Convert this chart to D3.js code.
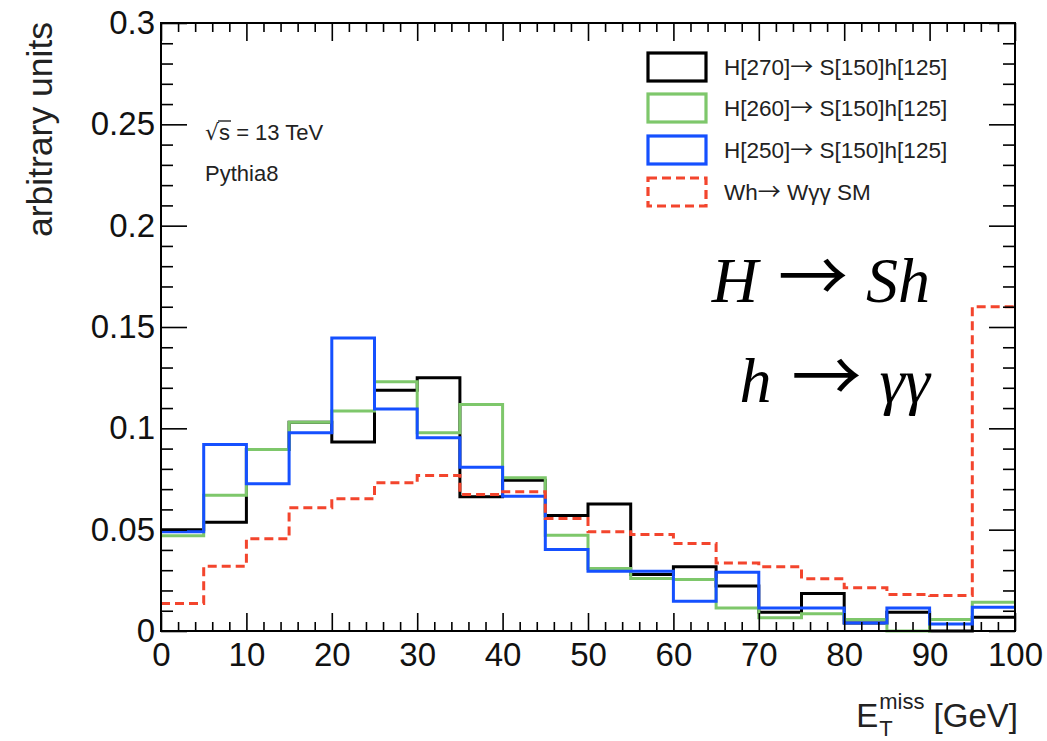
<!DOCTYPE html>
<html>
<head>
<meta charset="utf-8">
<script src="https://cdn.jsdelivr.net/npm/d3@7"></script>
<style>
  body { margin: 0; background: #fff; }
  svg { display: block; font-family: "Liberation Sans", Arial, sans-serif; }
</style>
</head>
<body>
<div id="viz"></div>
<script>
var width = 1047;
var height = 741;

// bin edges, 5 GeV wide
var binEdges = [0, 5, 10, 15, 20, 25, 30, 35, 40, 45, 50, 55, 60, 65, 70, 75, 80, 85, 90, 95, 100];

// H[270] -> S[150]h[125]
var h270 = [0.050, 0.0537, 0.0895, 0.103, 0.0933, 0.1188, 0.1249, 0.0662, 0.0744, 0.057,
            0.0627, 0.0279, 0.0317, 0.0222, 0.0093, 0.0185, 0.004, 0.0093, 0.0, 0.0068];
// H[260] -> S[150]h[125]
var h260 = [0.047, 0.067, 0.0895, 0.103, 0.1085, 0.123, 0.0978, 0.1117, 0.0756, 0.0473,
            0.0308, 0.0259, 0.0254, 0.0114, 0.0065, 0.0085, 0.0057, 0.0, 0.0057, 0.0142];
// H[250] -> S[150]h[125]
var h250 = [0.049, 0.092, 0.0726, 0.0978, 0.1446, 0.1096, 0.0953, 0.0808, 0.0665, 0.0402,
            0.0295, 0.0295, 0.0147, 0.029, 0.0114, 0.0114, 0.004, 0.0114, 0.0035, 0.0117];
// Wh -> Wyy SM
var whSM = [0.0136, 0.032, 0.0455, 0.0608, 0.0652, 0.0731, 0.0767, 0.0673, 0.0687, 0.0555,
            0.049, 0.0476, 0.0432, 0.0335, 0.0317, 0.0258, 0.0213, 0.018, 0.0175, 0.160];

// legend labels, split around the arrow
var seriesNames = [["H[270]", "S[150]h[125]"], ["H[260]", "S[150]h[125]"], ["H[250]", "S[150]h[125]"], ["Wh", "W\u03b3\u03b3 SM"]];
var seriesColors = ["#000000", "#7ec76b", "#1550ff", "#f3452d"];

var xTicks = [0, 10, 20, 30, 40, 50, 60, 70, 80, 90, 100];
var yTicks = [0, 0.05, 0.1, 0.15, 0.2, 0.25, 0.3];
var yTickLabels = ["0", "0.05", "0.1", "0.15", "0.2", "0.25", "0.3"];

var arrowFont = "'Noto Sans CJK JP', 'DejaVu Sans', sans-serif";

var svg = d3.select("#viz").append("svg")
   .attr("width", width)
   .attr("height", height);

svg.append("rect")
   .attr("width", width)
   .attr("height", height)
   .attr("fill", "#fff");

var x = d3.scaleLinear().domain([0, 100]).range([161, 1015]);
var y = d3.scaleLinear().domain([0, 0.3]).range([631, 23]);

// Histograms //

var step = d3.line()
   .x(function(d) { return x(d[0]); })
   .y(function(d) { return y(d[1]); })
   .curve(d3.curveStepAfter);

function histPoints(vals) {
   var pts = vals.map(function(v, i) { return [binEdges[i], v]; });
   pts.push([binEdges[binEdges.length - 1], vals[vals.length - 1]]);
   return pts;
}

var allSeries = [h270, h260, h250, whSM];
allSeries.forEach(function(vals, i) {
   svg.append("path")
      .attr("d", step(histPoints(vals)))
      .attr("fill", "none")
      .attr("stroke", seriesColors[i])
      .attr("stroke-width", 3)
      .attr("stroke-dasharray", i == 3 ? "9,5" : null);
});

// Axes //

var minorX = d3.range(0, 101, 2).filter(function(d) { return d % 10 != 0; });
var minorY = d3.range(0, 31, 1).map(function(d) { return d / 100; }).filter(function(d, i) { return i % 5 != 0; });

function styleAxis(g) {
   g.select(".domain").remove();
   g.selectAll(".tick line").attr("stroke", "#000").attr("stroke-width", 1.6);
   g.selectAll(".tick text").attr("font-size", 33).attr("fill", "#111")
      .style("font-family", "'Liberation Sans', Arial, sans-serif");
}

// bottom
svg.append("g").attr("transform", "translate(0,631)")
   .call(d3.axisBottom(x).tickValues(xTicks).tickSize(-18).tickPadding(12).tickFormat(d3.format("d")))
   .call(styleAxis);
svg.append("g").attr("transform", "translate(0,631)")
   .call(d3.axisBottom(x).tickValues(minorX).tickSize(-9).tickFormat(""))
   .call(styleAxis);
// top
svg.append("g").attr("transform", "translate(0,23)")
   .call(d3.axisTop(x).tickValues(xTicks).tickSize(-18).tickFormat(""))
   .call(styleAxis);
svg.append("g").attr("transform", "translate(0,23)")
   .call(d3.axisTop(x).tickValues(minorX).tickSize(-9).tickFormat(""))
   .call(styleAxis);
// left
svg.append("g").attr("transform", "translate(161,0)")
   .call(d3.axisLeft(y).tickValues(yTicks).tickSize(-26).tickPadding(6)
      .tickFormat(function(d, i) { return yTickLabels[i]; }))
   .call(styleAxis);
svg.append("g").attr("transform", "translate(161,0)")
   .call(d3.axisLeft(y).tickValues(minorY).tickSize(-12).tickFormat(""))
   .call(styleAxis);
// right
svg.append("g").attr("transform", "translate(1015,0)")
   .call(d3.axisRight(y).tickValues(yTicks).tickSize(-26).tickFormat(""))
   .call(styleAxis);
svg.append("g").attr("transform", "translate(1015,0)")
   .call(d3.axisRight(y).tickValues(minorY).tickSize(-12).tickFormat(""))
   .call(styleAxis);

// frame
svg.append("rect")
   .attr("x", x(0))
   .attr("y", y(0.3))
   .attr("width", x(100) - x(0))
   .attr("height", y(0) - y(0.3))
   .attr("fill", "none")
   .attr("stroke", "#000")
   .attr("stroke-width", 2);

// Axis titles //

svg.append("text")
   .attr("transform", "translate(52,22) rotate(-90)")
   .attr("text-anchor", "end")
   .attr("font-size", 35.5)
   .attr("fill", "#222")
   .text("arbitrary units");

var xt = svg.append("g").attr("fill", "#222");
var e = xt.append("text").attr("x", 0).attr("y", 0).attr("font-size", 33).text("E");
var ew = e.node().getComputedTextLength() + 1;
var sub = xt.append("text").attr("x", ew).attr("y", 9).attr("font-size", 22).text("T");
var sup = xt.append("text").attr("x", ew).attr("y", -18).attr("font-size", 22).text("miss");
var sw = Math.max(sub.node().getComputedTextLength(), sup.node().getComputedTextLength());
var rest = xt.append("text").attr("x", ew + sw).attr("y", 0).attr("font-size", 33).text("\u00a0[GeV]");
var total = ew + sw + rest.node().getComputedTextLength();
xt.attr("transform", "translate(" + (1018 - total) + ",727)");

// Legend //

var legendY = [67, 108, 150, 192];
seriesNames.forEach(function(name, i) {
   svg.append("rect")
      .attr("x", 648)
      .attr("y", legendY[i] - 14)
      .attr("width", 58)
      .attr("height", 28)
      .attr("fill", "none")
      .attr("stroke", seriesColors[i])
      .attr("stroke-width", 3.2)
      .attr("stroke-dasharray", i == 3 ? "9,5" : null);
   var t = svg.append("text")
      .attr("x", 724)
      .attr("y", legendY[i])
      .attr("dy", "0.35em")
      .attr("font-size", 22.5)
      .attr("fill", "#222");
   t.append("tspan").text(name[0]);
   t.append("tspan").style("font-family", arrowFont).attr("font-size", 23).text("\u2192");
   t.append("tspan").text(" " + name[1]);
});

// Labels //

var rs = svg.append("text").attr("x", 205).attr("y", 140).attr("font-size", 22).attr("fill", "#222");
rs.append("tspan").style("font-family", "'DejaVu Sans', sans-serif").text("\u221a");
rs.append("tspan").text("s");
rs.append("tspan").text(" = 13 TeV");
var sStart = rs.node().getStartPositionOfChar(1).x;
var sEnd = rs.node().getEndPositionOfChar(1).x;
svg.append("line")
   .attr("x1", sStart - 1).attr("x2", sEnd + 1)
   .attr("y1", 121).attr("y2", 121)
   .attr("stroke", "#222").attr("stroke-width", 1.4);

svg.append("text").attr("x", 205).attr("y", 181).attr("font-size", 22).attr("fill", "#222").text("Pythia8");

function mathLine(parts, yb) {
   var t = svg.append("text")
      .attr("x", 930)
      .attr("y", yb)
      .attr("text-anchor", "end")
      .attr("font-size", 64)
      .style("font-family", "'Liberation Serif', 'Times New Roman', serif");
   parts.forEach(function(p) {
      var s = t.append("tspan")
         .attr("font-style", p[1] ? "italic" : "normal")
         .attr("dx", p[2] || 0)
         .text(p[0]);
      if (!p[1]) s.style("font-family", arrowFont).attr("font-size", 70);
   });
}
mathLine([["H", true], ["\u2192", false, 20], ["S", true, 18], ["h", true]], 302);
mathLine([["h", true], ["\u2192", false, 20], ["\u03b3\u03b3", true, 18]], 402);
</script>
</body>
</html>
